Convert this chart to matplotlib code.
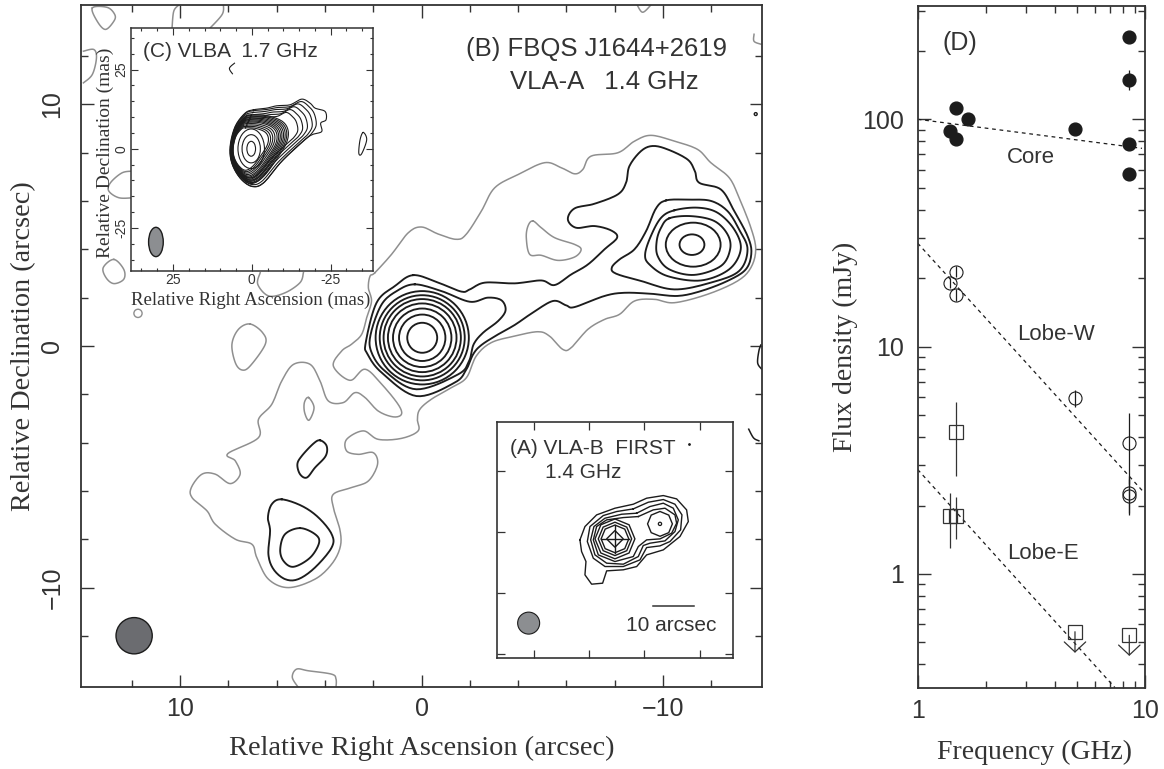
import numpy as np
import matplotlib
matplotlib.use('Agg')
import matplotlib.pyplot as plt
from matplotlib.patches import Ellipse, Circle, RegularPolygon
from matplotlib.ticker import NullFormatter, FixedLocator

plt.rcParams['font.family'] = ['Liberation Sans', 'DejaVu Sans']
SERIF = 'Liberation Serif'
W, H = 1164, 769
GRAY = '#8f8f8f'
BLACK = '#1c1c1c'
EDGE = '#333333'

# panel B, traced contours (RA, Dec in arcsec)
envelope = [(1.93,3.03),(1.24,3.79),(0.55,4.68),(0.0,4.92),(-0.69,4.63),(-1.45,4.41),(-1.86,4.63),(-2.48,5.58),
            (-3.03,6.54),(-4.0,7.09),(-5.1,7.58),(-5.79,7.37),(-6.34,7.12),(-6.68,7.3),(-7.02,7.85),(-8.13,7.99),
            (-8.82,8.47),(-9.5,8.71),(-10.47,8.47),(-11.43,8.13),(-11.98,7.58),(-12.74,6.96),(-13.15,6.13),
            (-13.64,4.89),(-13.84,4.0),(-13.64,3.24),(-13.09,2.69),(-11.85,2.14),(-10.47,1.79),(-9.64,1.93),
            (-8.82,1.86),(-8.2,1.31),(-7.58,1.1),(-6.89,0.69),(-6.2,-0.07),(-5.85,-0.14),(-5.3,0.41),(-4.82,0.59),
            (-3.86,0.41),(-2.89,0.14),(-2.27,-0.41),(-1.86,-1.31),(-1.24,-1.72),(-0.41,-2.2),(0.07,-2.62),
            (0.17,-3.03),(0.14,-3.51),(0.83,-3.82),(1.79,-3.86),(2.41,-3.51),(3.1,-3.86),(3.1,-4.34),(2.62,-4.48),
            (2.0,-4.41),(1.82,-4.89),(2.2,-5.58),(2.89,-5.85),(3.65,-6.13),(3.65,-6.68),(3.37,-7.64),(3.37,-8.33),
            (3.72,-9.02),(4.41,-9.64),(5.51,-9.99),(6.34,-9.64),(6.82,-8.75),(7.02,-8.2),(7.71,-7.99),(8.54,-7.37),
            (8.88,-6.82),(9.5,-6.27),(9.53,-5.85),(9.09,-5.3),(8.54,-5.3),(7.92,-5.69),(7.51,-5.3),(7.71,-4.75),
            (8.02,-4.45),(6.75,-3.79),(6.75,-3.03),(6.2,-2.41),(5.79,-1.45),(5.3,-0.76),(4.61,-0.76),(4.2,-1.45),
            (3.86,-2.27),(3.24,-2.34),(2.76,-1.93),(2.34,-2.13),(1.79,-2.69),(1.17,-2.93),(0.83,-2.82),(0.97,-2.41),
            (1.65,-1.58),(2.34,-0.96),(2.96,-1.42),(3.65,-0.83),(3.31,-0.21),(2.9,0.07),(2.48,0.48),(2.27,1.17),
            (2.07,1.86),(2.2,2.41),(2.13,2.89)]
gray_closed = [
    [(-4.61,5.17),(-4.96,4.89),(-5.51,4.48),(-6.34,4.2),(-6.61,3.99),(-6.34,3.68),(-5.65,3.54),(-4.96,3.75),(-4.48,3.79),(-4.34,4.48),(-4.41,4.96)],
    [(7.1,0.91),(7.58,0.69),(7.85,0.07),(7.71,-0.69),(7.44,-0.99),(7.1,-0.83),(6.47,0.07),(6.58,0.55)],
    [(4.68,-2.13),(4.45,-2.55),(4.66,-3.07),(4.84,-2.75),(4.85,-2.34)],
    [(13.63,13.98),(13.43,13.43),(13.09,13.09),(12.74,13.43),(12.7,13.7),(13.01,14.0)],
    [(12.74,3.58),(12.33,3.17),(12.33,2.76),(12.74,2.58),(13.06,2.82),(13.18,3.24)],
]
gray_open = [
    [(5.1,-14.12),(5.35,-13.7),(5.17,-13.36),(4.68,-13.43),(3.72,-13.57),(3.54,-13.77),(3.54,-14.12)],
    [(14.0,12.19),(13.57,12.26),(13.46,11.91),(13.63,11.23),(14.0,10.88)],
    [(10.33,13.15),(10.26,13.84),(10.05,14.1)],
    [(8.81,13.09),(8.26,13.7),(8.2,14.1)],
    [(6.68,3.03),(6.78,2.55),(6.33,2.07),(5.65,2.2),(5.03,2.62),(4.89,3.03)],
    [(11.94,7.23),(12.4,7.16),(12.88,6.75),(12.95,6.41),(12.53,6.13),(11.94,6.13)],
    [(-8.93,14.1),(-9.16,13.8),(-9.5,14.1)],
    [(-13.77,12.89),(-13.77,12.6),(-14.05,12.48)],
]
black_outer = [(0.34,2.93),(-0.69,2.62),(-1.65,2.25),(-2.0,2.34),(-2.62,2.62),(-3.86,2.59),(-4.96,2.71),(-5.51,2.52),
               (-6.2,2.96),(-6.89,3.37),(-7.58,4.0),(-8.1,4.48),(-7.85,4.78),(-7.16,4.96),(-6.4,4.89),(-6.06,5.24),
               (-6.34,5.69),(-7.16,5.88),(-8.13,6.27),(-8.47,6.75),(-8.61,7.44),(-9.09,8.06),(-9.57,8.27),(-10.19,8.13),
               (-11.02,7.71),(-11.32,7.23),(-11.5,6.75),(-12.4,6.47),(-12.95,5.58),(-13.5,4.55),(-13.66,3.86),
               (-13.43,3.17),(-12.67,2.69),(-11.57,2.27),(-10.6,2.07),(-9.5,2.16),(-8.4,2.2),(-7.58,2.07),(-6.34,1.61),
               (-5.99,1.68),(-5.44,1.86),(-4.55,1.34),(-3.86,0.87),(-3.17,0.48),(-2.48,0.04),(-2.14,-0.34),(-1.86,-0.96),
               (-1.38,-1.51),(0.21,-2.07),(1.65,-1.1),(2.23,-0.34),(2.31,0.14),(1.86,1.79),(1.1,2.48)]
black_core2 = [(0.28,2.55),(-0.83,2.27),(-2.0,1.83),(-2.75,2.0),(-3.31,1.89),(-3.48,1.47),(-3.17,1.03),(-2.55,0.55),
               (-2.16,0.07),(-1.97,-0.62),(-1.52,-1.17),(0.21,-1.79),(1.52,-1.03),(2.09,-0.21),(2.09,0.55),(1.65,1.72),(1.03,2.27)]
lobe_w1 = [(-10.13,6.02),(-11.02,6.05),(-11.98,6.0),(-12.67,5.58),(-13.15,4.82),(-13.5,4.0),(-13.15,3.1),(-11.98,2.62),
           (-10.47,2.34),(-9.09,2.69),(-8.06,2.99),(-7.88,3.24),(-8.2,3.58),(-8.82,4.0),(-9.3,4.75),(-9.71,5.69)]
lobe_w2 = [(-10.47,5.61),(-11.43,5.72),(-12.26,5.51),(-12.95,4.82),(-13.22,4.0),(-12.74,3.17),(-11.57,2.71),(-10.19,2.89),
           (-9.44,3.37),(-9.26,3.79),(-9.5,4.55),(-9.92,5.3)]
lobe_w3 = [(-10.26,5.28),(-11.16,5.37),(-12.12,5.17),(-12.67,4.62),(-12.78,4.0),(-12.4,3.31),(-11.29,2.94),(-10.26,3.17),
           (-9.78,3.72),(-9.74,4.34),(-9.92,4.89)]
east_outer = [(5.79,-6.34),(4.96,-6.61),(4.27,-7.09),(3.72,-7.78),(3.72,-8.33),(4.41,-9.16),(5.1,-9.64),(5.65,-9.64),
              (6.13,-9.23),(6.34,-8.61),(6.27,-7.64),(6.36,-7.09),(6.2,-6.54)]
east_inner = [(5.03,-7.53),(4.41,-7.78),(4.24,-8.13),(4.61,-8.75),(5.3,-9.13),(5.72,-8.88),(5.85,-8.4),(5.65,-7.78)]
mid_island = [(4.2,-3.9),(3.93,-4.13),(3.97,-4.55),(4.41,-5.03),(4.75,-5.44),(5.03,-5.3),(5.14,-4.89),(4.96,-4.55),(4.48,-4.04)]
black_open = [
    [(-14.05,0.04),(-13.97,-0.21),(-13.92,-0.7),(-14.08,-0.95)],
    [(-13.55,-3.44),(-13.75,-3.8),(-13.97,-3.92)],
]
core_radii = [0.62, 0.96, 1.21, 1.42, 1.6, 1.76, 1.93]
lobe_ra = [-11.25, -11.2]
lobe_dec = [4.19, 4.19]
lobe_width = [2.27, 1.03]
lobe_height = [1.82, 0.85]
main_ticks = [10, 0, -10]
main_labels = ['10', '0', '\u221210']
main_minor = [12, 8, 6, 4, 2, -2, -4, -6, -8, -12]

# panel C (mas)
vlba_outer = [(-0.5,12.3),(-4.73,12.83),(-7.9,13.56),(-12.12,13.88),(-15.81,15.66),(-18.45,14.4),(-20.04,12.83),
              (-23.21,11.77),(-23.52,9.14),(-21.83,8.09),(-22.15,5.46),(-19.51,4.62),(-17.4,3.36),(-13.17,-0.32),
              (-8.95,-4.52),(-3.67,-10.83),(0.03,-11.89),(3.72,-9.26),(6.36,-4.52),(6.89,0.73),(5.3,7.04),(2.14,11.25)]
vlba_tail = [(-0.5,12.0),(-4.7,12.4),(-8,13),(-12,13.3),(-15.6,14.9),(-18.2,13.2),(-19.8,11),(-20.4,7.5),(-19,4.9),
             (-17.2,3.2),(-13.1,-0.5),(-8.9,-4.6),(-3.6,-10.8),(0.03,-11.8),(3.7,-9.2),(6.3,-4.5),(6.8,0.7),(5.2,7),(2.1,11.1)]
vlba_core = [(0,11),(-5,10.8),(-10,9),(-12,6),(-11.5,2),(-8.5,-3),(-4,-9),(0,-11.3),(3.5,-9),(6,-4.5),(6.5,0.7),(5,6.7),(2,10.5)]
vlba_tail_levels = [1.0, 0.95, 0.89, 0.83, 0.77]
vlba_core_levels = [0.97, 0.94, 0.91, 0.88, 0.85, 0.82, 0.79, 0.76, 0.72, 0.68, 0.64, 0.6]
vlba_oval_width = [8.4, 5.8, 2.75]
vlba_oval_height = [12.5, 8.9, 4.7]
vlba_stray = [(-35.3,5.15),(-36.4,2.84),(-34.8,-1.58),(-33.9,-1.37),(-34.3,2.84)]
vlba_arc = [(5.5,27.0),(7.1,25.4),(6.15,23.66)]
inset_c_ticks = [25, 0, -25]
inset_c_labels = ['25', '0', '-25']
inset_c_minor = [35, 30, 20, 15, 10, 5, -5, -10, -15, -20, -30, -35]

# panel A (arcsec)
first_1 = [(8.6,-0.24),(7.37,3.03),(4.5,5.9),(0.0,7.54),(-4.5,8.52),(-7.78,10.0),(-11.88,10.65),(-15.15,9.83),(-17.6,7.13),
           (-18.02,4.26),(-15.97,0.58),(-11.88,-2.7),(-7.78,-3.93),(-5.33,-6.8),(-2.05,-7.6),(2.04,-7.86),(3.03,-10.89),
           (5.73,-11.13),(7.37,-8.84),(7.12,-5.57),(8.2,-3.11)]
first_2 = [(-4.5,7.37),(-8.19,9.01),(-11.88,9.67),(-14.74,8.52),(-16.46,5.9),(-16.13,2.22),(-13.52,-0.65),(-11.06,-1.72),
           (-7.78,-2.13),(-6.14,-5.16),(-2.05,-6.79),(2.45,-6.79),(5.32,-4.75),(6.79,-0.65),(6.14,3.03),(2.86,5.74),(-0.41,6.72)]
first_3 = [(-5.33,6.31),(-8.6,7.95),(-11.88,8.77),(-14.33,7.54),(-15.56,4.67),(-14.74,1.8),(-12.29,-0.49),(-8.6,-1.06),
           (-6.96,-1.63),(-5.73,-4.34),(-2.05,-6.22),(2.04,-5.97),(4.91,-3.93),(5.97,-0.24),(5.16,3.03),(2.46,5.08),(-1.64,6.06)]
first_4 = [(-5.74,5.49),(-9.42,7.13),(-12.29,7.54),(-14.74,5.9),(-15.15,3.85),(-13.93,1.4),(-11.06,0.0),(-7.78,-0.24),
           (-5.74,-1.88),(-4.5,-4.34),(0,-5.57),(4.09,-3.93),(5.32,-0.24),(4.5,3.03),(2.05,4.67),(-2.05,5.24)]
first_core_radii = [4.9, 4.1, 3.4]
first_x_ticks = [19.9, 6.4, -7.2, -20.9]
first_y_ticks = [16.8, 1.7, -13.4, -28.2]

# panel D
core_freq = [8.53, 8.53, 1.474, 1.67, 1.387, 1.474, 4.92, 8.53, 8.53]
core_flux = [231, 149, 112, 100, 89, 82, 91, 77.6, 57.7]
core_err = [0, 15, 0, 0, 0, 0, 0, 0, 0]
west_freq = [1.474, 1.387, 1.474, 4.92, 8.53, 8.53, 8.53]
west_flux = [21.4, 19.1, 16.9, 5.93, 3.78, 2.28, 2.21]
west_err = [1.2, 1.0, 1.0, 0.5, 1.3, 0.43, 0.4]
east_freq = [1.474, 1.387, 1.474]
east_flux = [4.2, 1.79, 1.8]
east_lo = [1.5, 0.49, 0.37]
east_hi = [1.53, 0.49, 0.37]
limit_freq = [4.92, 8.53]
limit_flux = [0.557, 0.537]
limit_tip = [0.45, 0.436]
fit_core = ([1, 9.7], [100, 74.5])
fit_west = ([1, 9.83], [28.5, 2.3])
fit_east = ([1, 7.38], [2.88, 0.316])
d_minor_x = [2, 3, 4, 5, 6, 7, 8, 9]
d_minor_y = [0.4, 0.5, 0.6, 0.7, 0.8, 0.9, 2, 3, 4, 5, 6, 7, 8, 9, 20, 30, 40, 50, 60, 70, 80, 90, 200, 300]


def axes_px(left, top, right, bottom):
    return fig.add_axes([left / W, 1 - bottom / H, (right - left) / W, (bottom - top) / H])


def smooth(pts, closed=True, n=10):
    # catmull-rom through the traced vertices
    p = np.array(pts, dtype=float)
    if closed:
        p = np.vstack([p[-1], p, p[0], p[1]])
    else:
        p = np.vstack([p[0], p, p[-1]])
    out = []
    for i in range(1, len(p) - 2):
        for t in np.linspace(0, 1, n, endpoint=False):
            out.append(0.5 * (2 * p[i] + (p[i + 1] - p[i - 1]) * t
                              + (2 * p[i - 1] - 5 * p[i] + 4 * p[i + 1] - p[i + 2]) * t ** 2
                              + (3 * p[i] - p[i - 1] - 3 * p[i + 1] + p[i + 2]) * t ** 3))
    out.append(p[-2])
    return np.array(out)


def draw(ax, pts, color, lw, closed=True):
    s = smooth(pts, closed)
    ax.plot(s[:, 0], s[:, 1], color=color, lw=lw, solid_joinstyle='round')


def frame(ax, lw=1.3):
    for sp in ax.spines.values():
        sp.set_linewidth(lw)
        sp.set_color(EDGE)


fig = plt.figure(figsize=(W / 100, H / 100), dpi=100)

# panel B
ax = axes_px(81, 5, 762, 687)
ax.set_xlim(14.1, -14.1)
ax.set_ylim(-14.1, 14.1)
draw(ax, envelope, GRAY, 1.1)
for c in gray_closed:
    draw(ax, c, GRAY, 1.1)
for c in gray_open:
    draw(ax, c, GRAY, 1.1, closed=False)
ax.add_patch(Circle((11.74, 1.35), 0.17, fill=False, ec=GRAY, lw=1.0))
for c in [black_outer, black_core2, lobe_w1, lobe_w2, lobe_w3, east_outer, east_inner, mid_island]:
    draw(ax, c, BLACK, 1.35)
for c in black_open:
    draw(ax, c, BLACK, 1.1, closed=False)
for r in core_radii:
    ax.add_patch(Circle((-0.03, 0.34), r, fill=False, ec=BLACK, lw=1.35))
for x0, y0, w, h in zip(lobe_ra, lobe_dec, lobe_width, lobe_height):
    ax.add_patch(Ellipse((x0, y0), w, h, fill=False, ec=BLACK, lw=1.35))
ax.add_patch(Circle((-13.84, 9.59), 0.06, fill=False, ec=BLACK, lw=1))
ax.add_patch(Circle((11.9, -11.98), 0.75, fc='#6b6c70', ec=BLACK, lw=1))
ax.set_xticks(main_ticks)
ax.set_xticklabels(main_labels)
ax.set_yticks(main_ticks)
ax.set_yticklabels(main_labels, rotation=90, va='center')
ax.set_xticks(main_minor, minor=True)
ax.set_yticks(main_minor, minor=True)
ax.tick_params(which='major', direction='in', length=9, width=1, top=True, right=True, labelsize=18,
               colors=EDGE, pad=7)
ax.tick_params(which='minor', direction='in', length=5, width=1, top=True, right=True, colors=EDGE)
ax.tick_params(axis='y', which='major', pad=12)
ax.set_xlabel('Relative Right Ascension (arcsec)', family=SERIF, fontsize=20.4, va='center', color=EDGE)
ax.xaxis.set_label_coords(0.5, -0.0894)
ax.set_ylabel('Relative Declination (arcsec)', family=SERIF, fontsize=20.3, va='center', color=EDGE)
ax.yaxis.set_label_coords(-0.085, 0.5)
ax.text(-1.86, 12.3, '(B) FBQS J1644+2619', fontsize=18.5, va='center', color=EDGE)
ax.text(-3.68, 10.9, 'VLA-A   1.4 GHz', fontsize=18.5, va='center', color=EDGE)
frame(ax)

# panel C
axc = axes_px(131, 28, 373, 270.5)
axc.set_xlim(38.3, -38.4)
axc.set_ylim(-38.4, 38.1)
draw(axc, vlba_outer, BLACK, 0.8)
tail = np.array(vlba_tail)
inner = np.array(vlba_core)
pivot = np.array([5.0, 0.0])  # rings bunch up on the east edge
for s in vlba_tail_levels:
    draw(axc, pivot + (tail - pivot) * s, BLACK, 0.8)
for s in vlba_core_levels:
    draw(axc, pivot + (inner - pivot) * s, BLACK, 0.8)
for w, h in zip(vlba_oval_width, vlba_oval_height):
    axc.add_patch(Ellipse((0.2, 0), w, h, fill=False, ec=BLACK, lw=0.8))
draw(axc, vlba_stray, BLACK, 0.8)
draw(axc, vlba_arc, BLACK, 0.8, closed=False)
axc.add_patch(Ellipse((30.4, -29.4), 4.65, 9.25, fc='#8c8e91', ec=BLACK, lw=1))
axc.set_xticks(inset_c_ticks)
axc.set_xticklabels(inset_c_labels)
axc.set_yticks(inset_c_ticks)
axc.set_yticklabels(inset_c_labels, rotation=90, va='center')
axc.set_xticks(inset_c_minor, minor=True)
axc.set_yticks(inset_c_minor, minor=True)
axc.tick_params(which='major', direction='in', length=5, width=0.8, top=True, right=True, labelsize=10,
                colors=EDGE, pad=2)
axc.tick_params(which='minor', direction='in', length=2.5, width=0.8, top=True, right=True, colors=EDGE)
axc.set_xlabel('Relative Right Ascension (mas)', family=SERIF, fontsize=13.6, va='center', color=EDGE)
axc.xaxis.set_label_coords(0.495, -0.122)
axc.set_ylabel('Relative Declination (mas)', family=SERIF, fontsize=14, va='center', color=EDGE)
axc.yaxis.set_label_coords(-0.104, 0.485)
axc.text(34.5, 30.6, '(C) VLBA  1.7 GHz', fontsize=15, va='center', color=EDGE)
frame(axc, 1.1)

# panel A
axa = axes_px(497.3, 421.7, 733.3, 657.7)
axa.set_xlim(28.9, -29.07)
axa.set_ylim(-29.2, 28.8)
for c in [first_1, first_2, first_3, first_4]:
    a = np.array(c + c[:1])
    axa.plot(a[:, 0], a[:, 1], color=BLACK, lw=1.0, solid_joinstyle='round')
for r in first_core_radii:
    axa.add_patch(RegularPolygon((0, 0), 8, radius=r, fill=False, ec=BLACK, lw=1.0))
axa.add_patch(RegularPolygon((0, 0), 4, radius=2.05, fill=False, ec=BLACK, lw=1.0))
axa.add_patch(RegularPolygon((-11.06, 3.69), 8, radius=3.05, fill=False, ec=BLACK, lw=1.0))
axa.add_patch(Circle((-11.06, 3.69), 0.4, fill=False, ec=BLACK, lw=0.9))
axa.plot([3.5, -3.5], [0, 0], color=BLACK, lw=1.0)
axa.plot([0, 0], [3.5, -3.5], color=BLACK, lw=1.0)
axa.plot([-18.27], [23.3], marker='.', ms=2, color=BLACK)
axa.add_patch(Circle((21.2, -20.7), 2.7, fc='#8c8e91', ec=BLACK, lw=0.8))
axa.plot([-9.42, -19.41], [-16.38, -16.38], color=EDGE, lw=1.1)
axa.text(-13.93, -21.3, '10 arcsec', fontsize=15, ha='center', va='center', color=EDGE)
axa.text(25.8, 22.3, '(A) VLA-B  FIRST', fontsize=15, va='center', color=EDGE)
axa.text(17.2, 16.2, '1.4 GHz', fontsize=15, va='center', color=EDGE)
axa.set_xticks(first_x_ticks)
axa.set_yticks(first_y_ticks)
axa.tick_params(which='major', direction='in', length=6, width=0.9, top=True, right=True, colors=EDGE,
                labelbottom=False, labelleft=False)
frame(axa, 1.2)

# panel D
axd = axes_px(917.7, 6, 1145, 687.7)
axd.set_xscale('log')
axd.set_yscale('log')
axd.set_xlim(1, 10)
axd.set_ylim(0.316, 315)
for fit in [fit_core, fit_west, fit_east]:
    axd.plot(fit[0], fit[1], color=BLACK, lw=0.9, ls=(0, (3, 3)))
axd.errorbar(core_freq, core_flux, yerr=core_err, fmt='o', ms=9.2, mfc=BLACK, mec=BLACK, ecolor=BLACK, elinewidth=0.9)
axd.errorbar(west_freq, west_flux, yerr=west_err, fmt='o', ms=9.4, mfc='none', mec=BLACK, mew=0.8,
             ecolor=BLACK, elinewidth=0.9)
axd.errorbar(east_freq, east_flux, yerr=[east_lo, east_hi], fmt='s', ms=9.4, mfc='none', mec=EDGE, mew=0.9,
             ecolor=EDGE, elinewidth=0.9)
axd.plot(limit_freq, limit_flux, 's', ms=9.4, mfc='none', mec=EDGE, mew=0.9)
for f, s, t in zip(limit_freq, limit_flux, limit_tip):
    axd.annotate('', xy=(f, t), xytext=(f, s),
                 arrowprops=dict(arrowstyle='->,head_length=0.72,head_width=0.77', lw=0.9, color=EDGE,
                                 mutation_scale=10, shrinkA=0, shrinkB=0))
axd.text(1.288, 217, '(D)', fontsize=18, va='center', color=EDGE)
axd.text(2.46, 68, 'Core', fontsize=16, va='center', color=EDGE)
axd.text(2.735, 11.3, 'Lobe-W', fontsize=16, va='center', color=EDGE)
axd.text(2.47, 1.23, 'Lobe-E', fontsize=16, va='center', color=EDGE)
axd.xaxis.set_major_locator(FixedLocator([1, 10]))
axd.xaxis.set_minor_locator(FixedLocator(d_minor_x))
axd.xaxis.set_minor_formatter(NullFormatter())
axd.set_xticklabels(['1', '10'])
axd.yaxis.set_major_locator(FixedLocator([1, 10, 100]))
axd.yaxis.set_minor_locator(FixedLocator(d_minor_y))
axd.yaxis.set_minor_formatter(NullFormatter())
axd.set_yticklabels(['1', '10', '100'])
axd.tick_params(which='major', direction='in', length=9.5, width=1, top=True, right=True, labelsize=18,
                colors=EDGE, pad=10)
axd.tick_params(axis='x', which='major', pad=8)
axd.tick_params(which='minor', direction='in', length=5, width=1, top=True, right=True, colors=EDGE)
axd.set_xlabel('Frequency (GHz)', family=SERIF, fontsize=20, va='center', color=EDGE)
axd.xaxis.set_label_coords(0.5125, -0.0944)
axd.set_ylabel('Flux density (mJy)', family=SERIF, fontsize=20, va='center', color=EDGE)
axd.yaxis.set_label_coords(-0.319, 0.5)
frame(axd)

fig.savefig('out.png', dpi=100)
